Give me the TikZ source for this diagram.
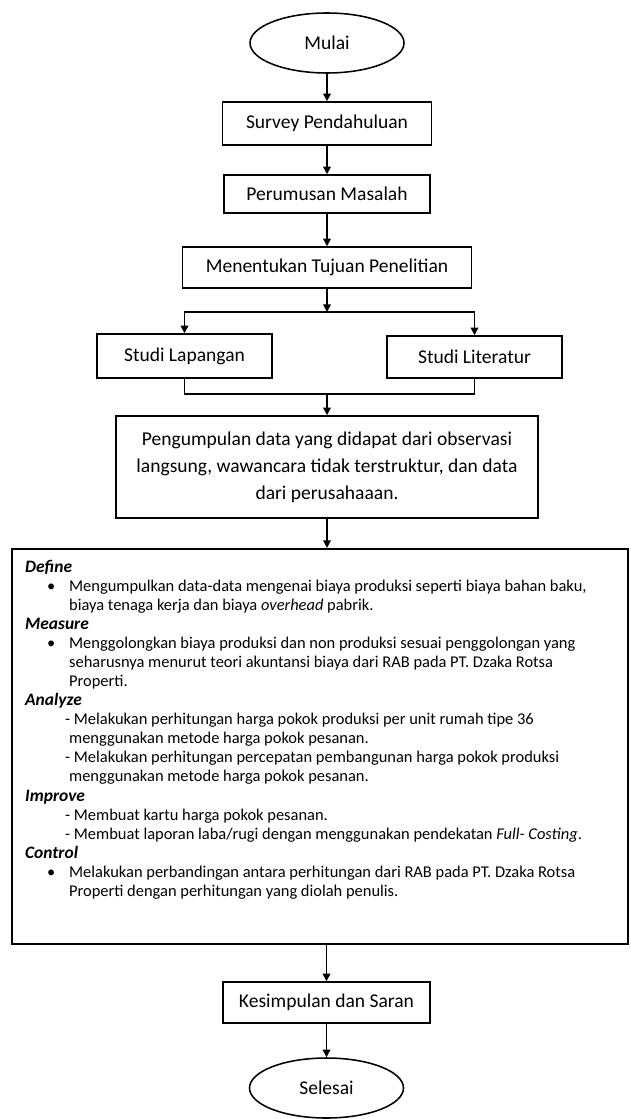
\documentclass[tikz,border=0pt]{standalone}
\usepackage{fontspec}
\setmainfont{Carlito}
\usepackage{tikz}
\usetikzlibrary{arrows.meta,positioning,shapes.geometric}
\newcommand{\phase}[1]{{\fontsize{12.4}{13.55}\selectfont\textbf{\textit{#1}}}}
\newcommand{\bul}{\hspace*{0.55cm}\makebox[0.55cm][l]{\textbullet}}
\newcommand{\dsh}{\hspace*{1.0cm}}
\newcommand{\cnt}{\hspace*{1.1cm}}

\begin{document}
\frenchspacing
\begin{tikzpicture}[
  terminal/.style={ellipse,draw=black,line width=1.1pt,minimum width=3.85cm,minimum height=1.5cm,font=\fontsize{13.9}{19.2}\selectfont},
  stepbox/.style={rectangle,draw=black,line width=1.1pt,minimum width=5.2cm,minimum height=1.05cm,align=center,font=\fontsize{13.9}{19.2}\selectfont},
  bigbox/.style={rectangle,draw=black,line width=1.6pt,minimum width=15.4cm,minimum height=9.875cm},
  body/.style={inner sep=0pt,align=left,font=\fontsize{11.7}{13.55}\selectfont},
  arrow/.style={-{Triangle[length=1.9mm,width=1.9mm]},line width=1.1pt,draw=black},
  link/.style={line width=1.1pt,draw=black}
]
\useasboundingbox (0,0) rectangle (15.775,-27.975);
\node[terminal] (mulai) at (8.175,-1.075) {Mulai};
\node[stepbox,minimum width=5.225cm,minimum height=1.075cm] (survey) at (8.175,-3.0875) {Survey Pendahuluan};
\node[stepbox,minimum width=5.15cm,minimum height=0.95cm] (rumusan) at (8.175,-4.85) {Perumusan Masalah};
\node[stepbox,minimum width=7.225cm,minimum height=1.025cm] (tujuan) at (8.175,-6.6875) {Menentukan Tujuan Penelitian};
\node[stepbox,minimum width=4.375cm,minimum height=1.1cm] (lapangan) at (4.6125,-8.9) {Studi Lapangan};
\node[stepbox,minimum width=4.375cm,minimum height=1.05cm] (literatur) at (11.8625,-8.925) {Studi Literatur};
\node[stepbox,minimum width=10.55cm,minimum height=2.55cm] (kumpul) at (8.175,-11.675) {Pengumpulan data yang didapat dari observasi\\langsung, wawancara tidak terstruktur, dan data\\dari perusahaaan.};
\node[bigbox] (dmaic) at (8.0,-18.6625) {};
\node[body,below right=0.3cm and 0.35cm of dmaic.north west] (dmaictext) {\phase{Define}\\
\bul Mengumpulkan data-data mengenai biaya produksi seperti biaya bahan baku,\\
\cnt biaya tenaga kerja dan biaya \textit{overhead} pabrik.\\
\phase{Measure}\\
\bul Menggolongkan biaya produksi dan non produksi sesuai penggolongan yang\\
\cnt seharusnya menurut teori akuntansi biaya dari RAB pada PT. Dzaka Rotsa\\
\cnt Properti.\\
\phase{Analyze}\\
\dsh - Melakukan perhitungan harga pokok produksi per unit rumah tipe 36\\
\cnt menggunakan metode harga pokok pesanan.\\
\dsh - Melakukan perhitungan percepatan pembangunan harga pokok produksi\\
\cnt menggunakan metode harga pokok pesanan.\\
\phase{Improve}\\
\dsh - Membuat kartu harga pokok pesanan.\\
\dsh - Membuat laporan laba/rugi dengan menggunakan pendekatan \textit{Full- Costing}.\\
\phase{Control}\\
\bul Melakukan perbandingan antara perhitungan dari RAB pada PT. Dzaka Rotsa\\
\cnt Properti dengan perhitungan yang diolah penulis.};
\node[stepbox,minimum width=5.175cm,minimum height=1.025cm] (simpul) at (8.1625,-25.0625) {Kesimpulan dan Saran};
\node[terminal] (selesai) at (8.1625,-27.2) {Selesai};
\coordinate (split) at (8.175,-7.8);
\coordinate (merge) at (8.175,-9.85);
\draw[arrow] (mulai) -- (survey);
\draw[arrow] (survey) -- (rumusan);
\draw[arrow] (rumusan) -- (tujuan);
\draw[arrow] (tujuan) -- (split);
\draw[arrow] (split) -| (lapangan);
\draw[arrow] (split) -| (literatur);
\draw[link] (lapangan) |- (merge);
\draw[link] (literatur) |- (merge);
\draw[arrow] (merge) -- (kumpul);
\draw[arrow] (kumpul) -- (kumpul |- dmaic.north);
\draw[arrow] (simpul |- dmaic.south) -- (simpul);
\draw[arrow] (simpul) -- (selesai);
\end{tikzpicture}
\end{document}
